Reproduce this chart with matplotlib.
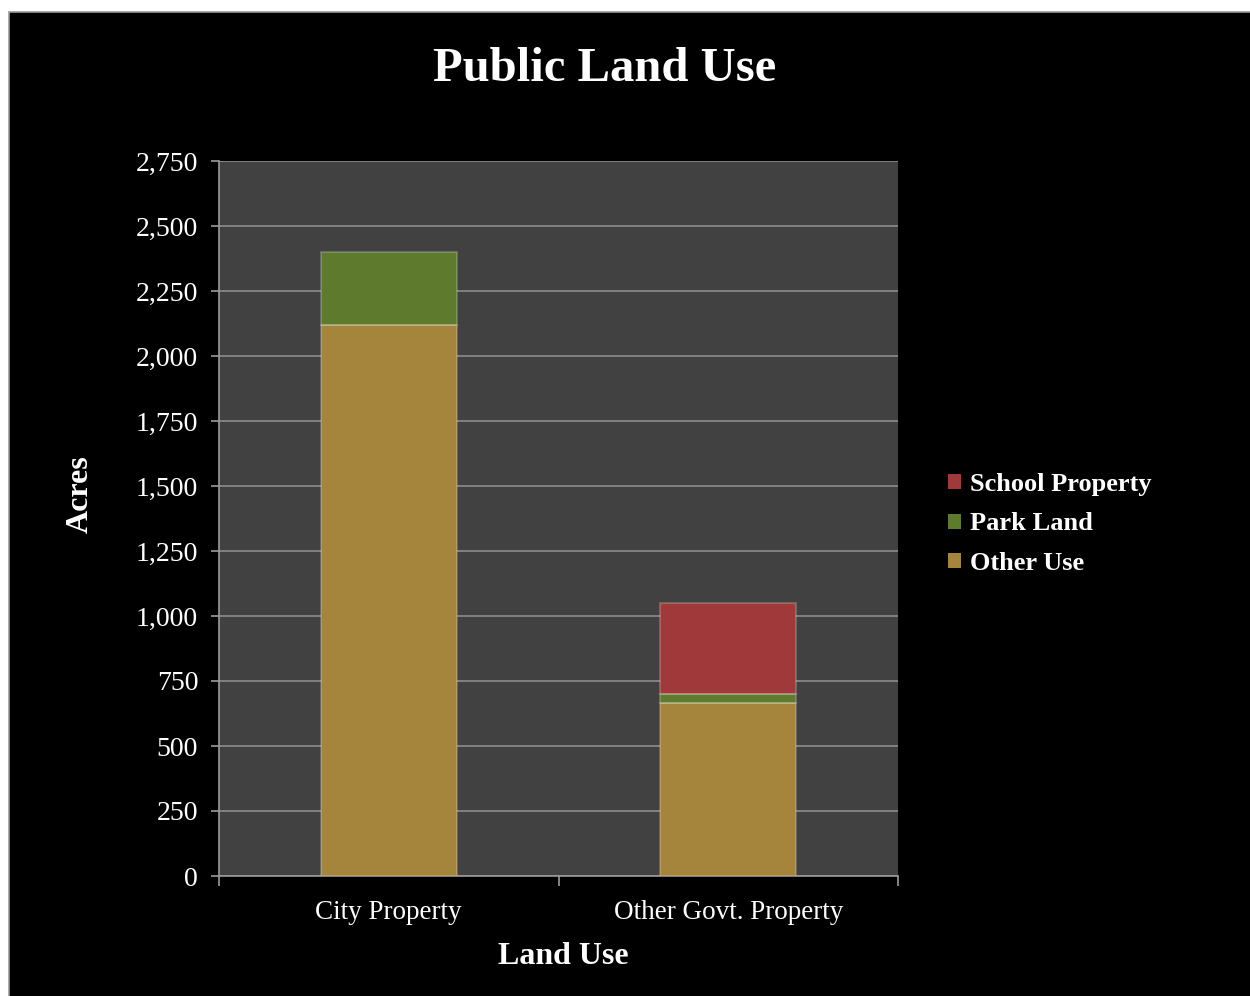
import matplotlib.pyplot as plt
import numpy as np
from matplotlib.patches import Rectangle

# acres by land use
categories = ["City Property", "Other Govt. Property"]
other_use = [2120, 665]
park_land = [280, 35]
school_property = [0, 350]

yticks = np.arange(0, 2751, 250)

c_other = "#a5843b"
c_park = "#5d7a2d"
c_school = "#a03a3a"

plt.rcParams["font.family"] = ["Liberation Serif", "DejaVu Serif"]

fig = plt.figure(figsize=(12.5, 9.96), dpi=100, facecolor="white")
# black slide area with a thin grey frame
fig.add_artist(Rectangle((9 / 1250, -0.01), 1.0, 1 - 12 / 996 + 0.01,
                         transform=fig.transFigure, facecolor="black",
                         edgecolor="#9a9a9a", linewidth=1.2, zorder=0))

ax = fig.add_axes([219 / 1250, 1 - 876 / 996, 679 / 1250, 715 / 996])
ax.set_facecolor("#414141")

x = np.arange(len(categories))
w = 0.4
bottom = np.zeros(len(categories))
bars = []
for vals, col, lab in [(other_use, c_other, "Other Use"),
                       (park_land, c_park, "Park Land"),
                       (school_property, c_school, "School Property")]:
    b = ax.bar(x, vals, w, bottom=bottom, color=col, edgecolor=col,
               linewidth=0, label=lab, zorder=3)
    # light rim on each block for a bevelled look
    for r in b:
        if r.get_height() > 0:
            ax.add_patch(Rectangle(r.get_xy(), r.get_width(), r.get_height(),
                                   fill=False, edgecolor="white", alpha=0.2,
                                   linewidth=1.5, zorder=4))
    bars.append(b)
    bottom = bottom + np.array(vals)

ax.set_xlim(-0.5, 1.5)
ax.set_ylim(0, 2750)
ax.set_yticks(yticks)
ax.set_yticklabels([f"{v:,}" for v in yticks])
ax.set_xticks(x)
ax.set_xticklabels(categories)
ax.set_xticks([-0.5, 0.5, 1.5], minor=True)

ax.grid(axis="y", color="#8c8c8c", linewidth=1.2, zorder=1)
ax.set_axisbelow(True)
for s in ["top", "right"]:
    ax.spines[s].set_visible(False)
for s in ["left", "bottom"]:
    ax.spines[s].set_color("#9a9a9a")
    ax.spines[s].set_linewidth(1.2)

ax.tick_params(axis="y", colors="#9a9a9a", labelcolor="white", labelsize=20,
               length=6, width=1.2, pad=9)
ax.tick_params(axis="x", which="major", length=0, labelcolor="white",
               labelsize=19.5, pad=17)
ax.tick_params(axis="x", which="minor", length=7, width=1.2, colors="#9a9a9a")

fig.text(0.484, 0.931, "Public Land Use", ha="center", va="center",
         color="white", fontsize=35, fontweight="bold")
fig.text(0.064, 0.504, "Acres", ha="center", va="center", rotation=90,
         color="white", fontsize=23, fontweight="bold")
fig.text(0.451, 0.040, "Land Use", ha="center", va="center",
         color="white", fontsize=23, fontweight="bold")

handles = [bars[2], bars[1], bars[0]]
labels = ["School Property", "Park Land", "Other Use"]
leg = fig.legend(handles, labels, loc="center left",
                 bbox_to_anchor=(0.739, 0.474), frameon=False,
                 prop={"weight": "bold", "size": 19}, labelcolor="white",
                 handlelength=0.5, handleheight=0.5, handletextpad=0.35,
                 labelspacing=0.64)

fig.savefig("out.png", dpi=100, facecolor=fig.get_facecolor())
